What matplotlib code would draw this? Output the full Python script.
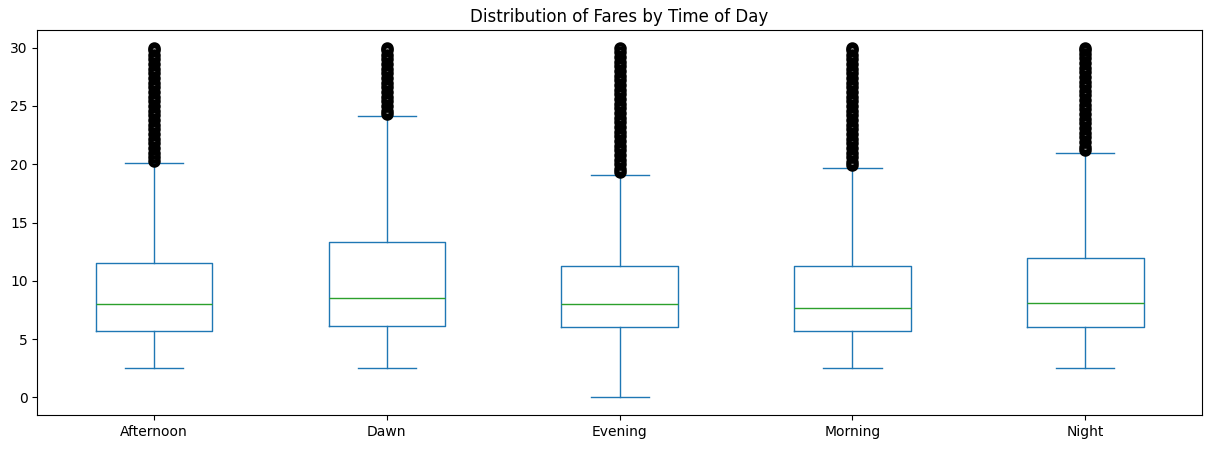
import matplotlib
matplotlib.use("Agg")
import matplotlib.pyplot as plt

categories = ["Afternoon", "Dawn", "Evening", "Morning", "Night"]
whislo = [2.5, 2.5, 0.0, 2.5, 2.5]
q1 = [5.7, 6.1, 6.0, 5.7, 6.0]
med = [8.0, 8.5, 8.0, 7.7, 8.1]
q3 = [11.5, 13.3, 11.3, 11.3, 12.0]
whishi = [20.1, 24.1, 19.1, 19.7, 21.0]

# outlier fares (dense columns up to the 30 cap)
fliers_afternoon = [20.3, 20.6, 21.0, 21.4, 21.8, 22.2, 22.6, 23.0, 23.4, 23.8, 24.2, 24.6,
                    25.0, 25.4, 25.8, 26.2, 26.6, 27.0, 27.4, 27.8, 28.2, 28.6, 29.0, 29.4, 29.8, 30.0]
fliers_dawn = [24.3, 24.6, 25.0, 25.4, 25.8, 26.2, 26.6, 27.0, 27.4, 27.8, 28.2, 28.6,
               29.0, 29.4, 29.8, 30.0]
fliers_evening = [19.3, 19.6, 20.0, 20.4, 20.8, 21.2, 21.6, 22.0, 22.4, 22.8, 23.2, 23.6, 24.0,
                  24.4, 24.8, 25.2, 25.6, 26.0, 26.4, 26.8, 27.2, 27.6, 28.0, 28.4, 28.8,
                  29.2, 29.6, 30.0]
fliers_morning = [19.9, 20.2, 20.6, 21.0, 21.4, 21.8, 22.2, 22.6, 23.0, 23.4, 23.8, 24.2, 24.6,
                  25.0, 25.4, 25.8, 26.2, 26.6, 27.0, 27.4, 27.8, 28.2, 28.6, 29.0, 29.4, 29.8, 30.0]
fliers_night = [21.2, 21.5, 21.9, 22.3, 22.7, 23.1, 23.5, 23.9, 24.3, 24.7, 25.1, 25.5, 25.9,
                26.3, 26.7, 27.1, 27.5, 27.9, 28.3, 28.7, 29.1, 29.5, 29.8, 30.0]
fliers = [fliers_afternoon, fliers_dawn, fliers_evening, fliers_morning, fliers_night]

stats = []
for i, name in enumerate(categories):
    stats.append(dict(label=name, whislo=whislo[i], q1=q1[i], med=med[i],
                      q3=q3[i], whishi=whishi[i], fliers=fliers[i]))

fig = plt.figure(figsize=(12.09, 4.51), dpi=100)
ax = fig.add_axes([0.031, 0.08, 0.963, 0.853])
ax.bxp(stats, widths=0.5,
       boxprops=dict(color="C0"), whiskerprops=dict(color="C0"),
       capprops=dict(color="C0"), medianprops=dict(color="C2"),
       flierprops=dict(marker="o", markeredgecolor="black", markerfacecolor="none",
                       markeredgewidth=3.0, markersize=6))
ax.set_ylim(-1.5, 31.5)
ax.set_title("Distribution of Fares by Time of Day")
fig.savefig("out.png")
